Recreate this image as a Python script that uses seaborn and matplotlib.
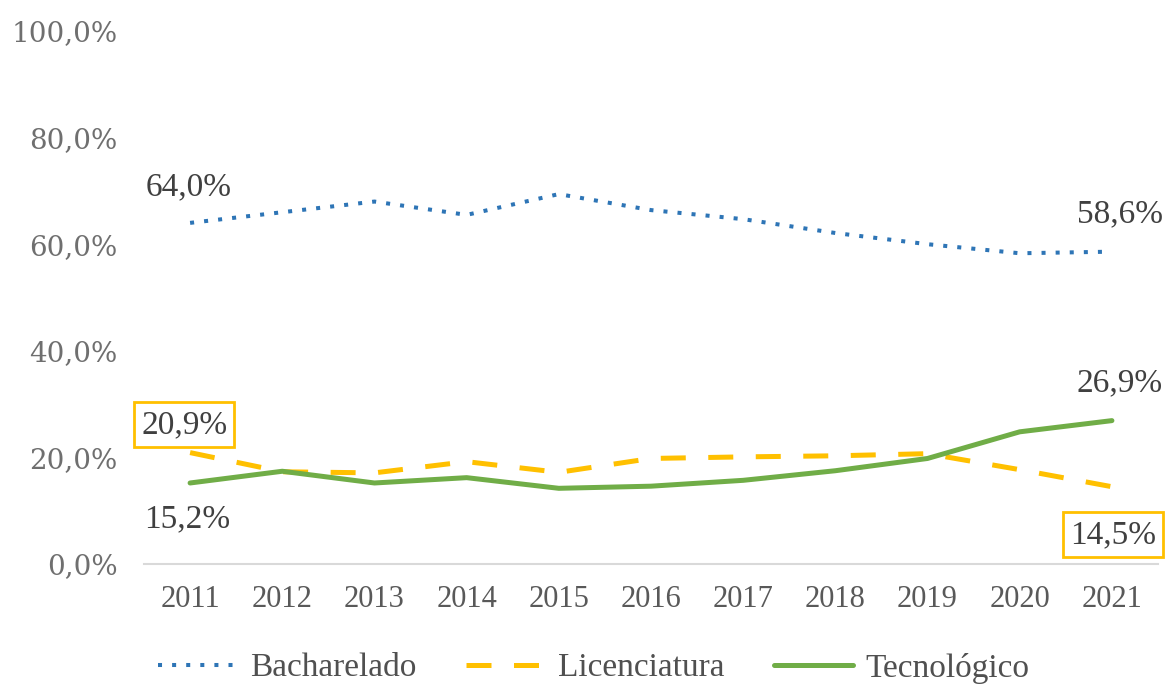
import matplotlib
matplotlib.use("Agg")
import matplotlib.pyplot as plt
from matplotlib.lines import Line2D
import pandas as pd
import seaborn as sns

years = [2011, 2012, 2013, 2014, 2015, 2016, 2017, 2018, 2019, 2020, 2021]
bacharelado = [64.0, 66.0, 68.0, 65.5, 69.4, 66.4, 64.7, 62.1, 60.0, 58.3, 58.6]
licenciatura = [20.9, 17.3, 17.1, 19.2, 17.2, 19.8, 20.1, 20.3, 20.7, 17.7, 14.5]
tecnologico = [15.2, 17.4, 15.2, 16.2, 14.2, 14.6, 15.7, 17.5, 19.8, 24.8, 26.9]
series_names = ["Bacharelado", "Licenciatura", "Tecnológico"]
y_ticks = [0, 20, 40, 60, 80, 100]

BLUE = "#2E75B6"
GOLD = "#FFC000"
GREEN = "#70AD47"
TEXT = "#404040"
TICK = "#6f6f6f"

sns.set_theme(style="white")
plt.rcParams["font.family"] = ["Liberation Serif", "DejaVu Serif"]

df = pd.DataFrame({
    "idx": list(range(len(years))) * 3,
    "valor": bacharelado + licenciatura + tecnologico,
    "serie": [series_names[0]] * len(years) + [series_names[1]] * len(years)
             + [series_names[2]] * len(years),
})

fig = plt.figure(figsize=(11.66, 6.86), dpi=100)
ax = fig.add_axes([144 / 1166, 122 / 686, 1014 / 1166, 533 / 686])

styles = {
    "Bacharelado": dict(color=BLUE, linewidth=2.9, linestyle=(0, (1, 2.5))),
    "Licenciatura": dict(color=GOLD, linewidth=3.6, linestyle=(0, (5, 4.5))),
    "Tecnológico": dict(color=GREEN, linewidth=3.6, linestyle="-"),
}
for name in series_names:
    sub = df[df["serie"] == name]
    sns.lineplot(data=sub, x="idx", y="valor", ax=ax, legend=False,
                 **styles[name])

ax.set_xlim(-0.5, len(years) - 0.5)
ax.set_ylim(0, 100)
ax.set_xticks(range(len(years)))
ax.set_xticklabels([str(y) for y in years], fontsize=22, color="#595959")
ax.set_yticks(y_ticks)
ax.set_yticklabels([f"{v:.1f}%".replace(".", ",") for v in y_ticks],
                   fontsize=20, color=TICK, family=["DejaVu Serif"])
ax.tick_params(axis="x", length=0, pad=15)
ax.tick_params(axis="y", length=0, pad=19)
ax.set_xlabel("")
ax.set_ylabel("")
for side in ["left", "right", "top"]:
    ax.spines[side].set_visible(False)
ax.spines["bottom"].set_color("#d9d9d9")
ax.spines["bottom"].set_linewidth(1.5)
ax.grid(False)


def fmt(v):
    return f"{v:.1f}%".replace(".", ",")


last = len(years) - 1
plain = [
    (0, bacharelado[0], (-1, 36)),
    (last, bacharelado[last], (8, 38)),
    (last, tecnologico[last], (8, 38)),
    (0, tecnologico[0], (-3, -36)),
]
for xi, v, off in plain:
    ax.annotate(fmt(v), (xi, v), xytext=off, textcoords="offset pixels",
                ha="center", va="center", fontsize=24, color=TEXT,
                annotation_clip=False)

boxed = [
    (0, licenciatura[0], (-6, 28)),
    (last, licenciatura[last], (1, -48)),
]
for xi, v, off in boxed:
    ax.annotate(fmt(v), (xi, v), xytext=off, textcoords="offset pixels",
                ha="center", va="center", fontsize=24, color=TEXT,
                annotation_clip=False,
                bbox=dict(boxstyle="square,pad=0.22", fc="white",
                          ec=GOLD, lw=2))

handles = [Line2D([], [], **styles[n]) for n in series_names]
fig.legend(handles, series_names, loc="center left",
           bbox_to_anchor=(158 / 1166, 1 - 668 / 686), ncol=3,
           frameon=False, fontsize=24, handlelength=2.35, handletextpad=0.4,
           columnspacing=1.5, borderpad=0, borderaxespad=0,
           labelcolor="#505050")

fig.savefig("out.png", dpi=100, facecolor="white")
